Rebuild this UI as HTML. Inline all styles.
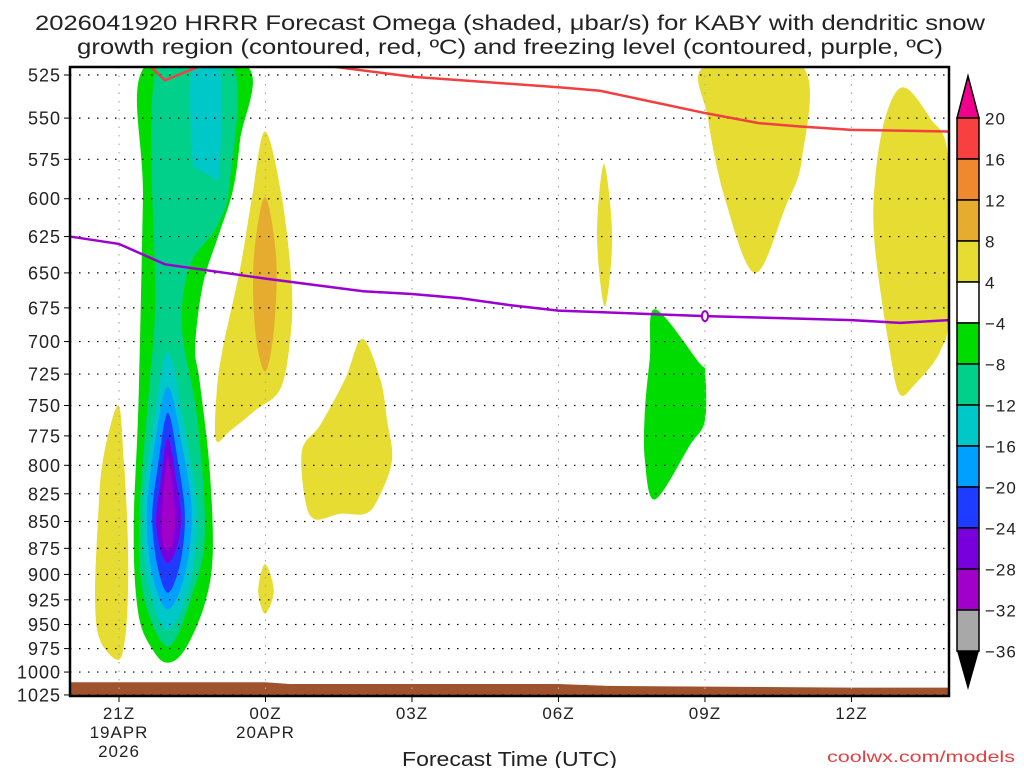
<!DOCTYPE html>
<html><head><meta charset="utf-8"><style>
body{margin:0;background:#fff;}
svg text{font-family:"Liberation Sans",sans-serif;}
</style></head><body>
<svg id="chart" width="1024" height="768" viewBox="0 0 1024 768" xmlns="http://www.w3.org/2000/svg">
<text x="35" y="30" textLength="950" lengthAdjust="spacingAndGlyphs" font-size="21" fill="#222">2026041920 HRRR Forecast Omega (shaded, μbar/s) for KABY with dendritic snow</text>
<text x="77" y="54" textLength="866" lengthAdjust="spacingAndGlyphs" font-size="21" fill="#222">growth region (contoured, red, ºC) and freezing level (contoured, purple, ºC)</text>
<g id="shades"></g>
<g id="grid"></g>
<g id="lines"></g>
<g id="axes"></g>
<g id="cbar"></g>
<text x="402" y="766" textLength="215" lengthAdjust="spacingAndGlyphs" font-size="20" fill="#222">Forecast Time (UTC)</text>
<text x="827" y="762" textLength="188" lengthAdjust="spacingAndGlyphs" font-size="16" fill="#e04040">coolwx.com/models</text>
</svg>
<script>
// ---- data ----
const pressureTicks=[525,550,575,600,625,650,675,700,725,750,775,800,825,850,875,900,925,950,975,1000,1025];
const timeTickHours=[0,3,6,9,12,15];
const timeTickLabels=[["21Z","19APR","2026"],["00Z","20APR"],["03Z"],["06Z"],["09Z"],["12Z"]];
const freezeHours=[-1,0,0.94,3,5,6,7,8,9,12,14,15,16,17];
const freezeP=[625,630,644,654,663,665,668,673,677,681,683,684,686,684];
const dgzHours=[0.63,0.94,1.66,4.3,6,7,9,9.85,12,13.1,13.95,15,17];
const dgzP=[520,528,520,520,526,528,532,534,547,553,555,557,558];
const groundHours=[-1,3,3.5,9,10,15,17];
const groundP=[1011,1011,1013,1013,1015,1017,1017];
const cbarLabels=["20","16","12","8","4","−4","−8","−12","−16","−20","−24","−28","−32","−36"];
const cbarColors=["#f84040","#f08830","#e6ac30","#e6dc32","#ffffff","#00dc00","#00d08a","#00c8c8","#00a0ff","#1e3cff","#7800dc","#a000c8","#a8a8a8"];
// shaded regions: [hour, pressure] pairs
const regGreen=[[0.53,520],[0.49,600],[0.4,746],[0.3,860],[0.4,940],[0.7,977],[1.0,990],[1.35,976],[1.75,930],[1.92,880],[1.85,800],[1.65,730],[1.56,704],[1.72,658],[2.03,625],[2.33,595],[2.48,563],[2.62,520]];
const regTeal=[[0.78,520],[0.74,671],[0.62,735],[0.42,842],[0.5,920],[1.0,973],[1.5,920],[1.76,860],[1.6,760],[1.29,690],[1.45,645],[2.01,618],[2.27,589],[2.33,520]];
const regCyanUpper=[[1.5,520],[1.5,574],[1.62,581],[1.86,585],[2.05,583],[2.05,520]];
const regCyanLower=[[1.0,708],[1.35,770],[1.6,842],[1.45,910],[1.0,956],[0.6,910],[0.49,842],[0.68,770]];
const regLtBlue=[[1.0,735],[1.3,785],[1.49,842],[1.35,900],[1.0,935],[0.68,900],[0.57,842],[0.72,785]];
const regBlue=[[1.0,756],[1.22,800],[1.35,845],[1.25,890],[1.0,918],[0.78,890],[0.68,845],[0.8,800]];
const regPurple=[[1.0,777],[1.18,815],[1.27,848],[1.18,875],[1.0,889],[0.84,875],[0.76,848],[0.85,815]];
const regMagenta=[[1.0,793],[1.12,830],[1.15,850],[1.1,870],[1.0,877],[0.9,870],[0.88,850],[0.9,830]];
const regYellowA=[[-0.02,750],[0.1,796],[0.18,866],[0.18,924],[0.12,966],[-0.02,987],[-0.39,966],[-0.49,924],[-0.43,848],[-0.33,796]];
const regYellowB=[[2.99,558],[3.34,600],[3.54,661],[3.5,700],[3.3,737],[2.79,754],[2.27,771],[1.99,779],[1.99,745],[2.11,708],[2.48,647],[2.72,600]];
const regOrangeB=[[2.99,599],[3.22,640],[3.17,692],[2.99,723],[2.79,692],[2.76,640]];
const regYellowC=[[2.99,890],[3.17,916],[2.99,939],[2.85,916]];
const regYellowD=[[4.98,698],[5.35,729],[5.49,762],[5.59,796],[5.3,830],[5.04,843],[4.53,843],[4.01,848],[3.81,830],[3.75,787],[4.12,766],[4.63,729]];
const regYellowE=[[9.93,578],[10.1,625],[9.95,674],[9.79,625]];
const regYellowF=[[12.0,520],[13.99,520],[13.99,574],[13.64,606],[13.02,650],[12.41,600],[12.06,550]];
const regYellowG=[[16.06,532],[16.61,550],[16.98,574],[17.0,676],[16.81,708],[16.3,733],[15.99,741],[15.79,708],[15.48,632],[15.48,589],[15.69,550]];
const regGreenH=[[10.98,676],[11.9,717],[12,721],[12,762],[11.69,783],[10.98,830],[10.77,796],[10.77,754],[10.87,713]];

// ---- axes ----
const X0=70,X1=949,Y0=67,Y1=696;
function xs(h){return 119+h*48.83;}
function ys(p){return 75+926.6*Math.log(p/525);}
const NS="http://www.w3.org/2000/svg";
function mk(tag,attrs,parent){const e=document.createElementNS(NS,tag);for(const k in attrs)e.setAttribute(k,attrs[k]);parent.appendChild(e);return e;}
function smoothPath(pts){
  const P=pts.map(d=>[xs(d[0]),ys(d[1])]);const n=P.length;let s="M"+P[0][0]+","+P[0][1];
  for(let i=0;i<n;i++){const p0=P[(i-1+n)%n],p1=P[i],p2=P[(i+1)%n],p3=P[(i+2)%n];
    const c1=[p1[0]+(p2[0]-p0[0])/6,p1[1]+(p2[1]-p0[1])/6],c2=[p2[0]-(p3[0]-p1[0])/6,p2[1]-(p3[1]-p1[1])/6];
    s+=" C"+c1[0]+","+c1[1]+" "+c2[0]+","+c2[1]+" "+p2[0]+","+p2[1];}
  return s+"Z";}
const svg=document.getElementById('chart');
const defs=mk('defs',{},svg);
const cp=mk('clipPath',{id:'plotclip'},defs);mk('rect',{x:X0,y:Y0,width:X1-X0,height:Y1-Y0},cp);
const sh=document.getElementById('shades');sh.setAttribute('clip-path','url(#plotclip)');
const regions=[[regGreen,"#00dc00","omega-minus4"],[regTeal,"#00d08a","omega-minus8"],[regCyanUpper,"#00c8c8","omega-minus12-upper"],[regCyanLower,"#00c8c8","omega-minus12-lower"],[regLtBlue,"#00a0ff","omega-minus16"],[regBlue,"#1e3cff","omega-minus20"],[regPurple,"#7800dc","omega-minus24"],[regMagenta,"#a000c8","omega-minus28"],[regYellowA,"#e6dc32","omega-plus4-a"],[regYellowB,"#e6dc32","omega-plus4-b"],[regOrangeB,"#e6ac30","omega-plus8-b"],[regYellowC,"#e6dc32","omega-plus4-c"],[regYellowD,"#e6dc32","omega-plus4-d"],[regYellowE,"#e6dc32","omega-plus4-e"],[regYellowF,"#e6dc32","omega-plus4-f"],[regYellowG,"#e6dc32","omega-plus4-g"],[regGreenH,"#00dc00","omega-minus4-h"]];
regions.forEach(r=>{const e=mk('path',{d:smoothPath(r[0]),fill:r[1]},sh);

});
// ground
let gd="M"+xs(-1)+","+Y1;groundHours.forEach((h,i)=>{gd+=" L"+xs(h)+","+ys(groundP[i]);});gd+=" L"+xs(17)+","+Y1+"Z";
const g=mk('path',{d:gd,fill:"#a0522d"},sh);


// grid
const grid=document.getElementById('grid');
pressureTicks.forEach(p=>{const l=mk('line',{x1:X0,x2:X1,y1:ys(p),y2:ys(p),stroke:"#000","stroke-width":1.2,"stroke-dasharray":"1.5,7.5"},grid);

});
timeTickHours.forEach(h=>{const l=mk('line',{x1:xs(h),x2:xs(h),y1:Y0,y2:Y1,stroke:"#aaa","stroke-width":1.2,"stroke-dasharray":"1.5,7"},grid);

});
// lines
const ln=document.getElementById('lines');ln.setAttribute('clip-path','url(#plotclip)');
const fz=mk('polyline',{points:freezeHours.map((h,i)=>xs(h)+","+ys(freezeP[i])).join(" "),fill:"none",stroke:"#9b00d0","stroke-width":2.5},ln);


const dg=mk('polyline',{points:dgzHours.map((h,i)=>xs(h)+","+ys(dgzP[i])).join(" "),fill:"none",stroke:"#f04040","stroke-width":2.5},ln);


const fl=mk('ellipse',{cx:xs(12),cy:ys(681),rx:3,ry:5,fill:"#fff",stroke:"#9b00d0","stroke-width":2},svg);


// axes
const ax=document.getElementById('axes');
mk('rect',{x:X0,y:Y0,width:X1-X0,height:Y1-Y0,fill:"none",stroke:"#000","stroke-width":2.5},ax);
pressureTicks.forEach(p=>{mk('line',{x1:X0-6,x2:X0,y1:ys(p),y2:ys(p),stroke:"#000","stroke-width":1},ax);
const t=mk('text',{x:X0-9,y:ys(p)+6.5,"text-anchor":"end","font-size":18,"letter-spacing":1,fill:"#222"},ax);t.textContent=p;

});
timeTickHours.forEach((h,i)=>{mk('line',{x1:xs(h),x2:xs(h),y1:Y1,y2:Y1+6,stroke:"#000","stroke-width":1},ax);
timeTickLabels[i].forEach((s,j)=>{const t=mk('text',{x:xs(h),y:719+j*19,"text-anchor":"middle","font-size":17,"letter-spacing":1,fill:"#222"},ax);t.textContent=s;

});});
// colorbar
const cb=document.getElementById('cbar');const bx=957,bw=22,bt=118,bh=41;
mk('polygon',{points:`${bx},${bt} ${bx+bw},${bt} ${bx+bw/2},76`,fill:"#f0008c",stroke:"#000","stroke-width":1.5},cb);
cbarColors.forEach((c,i)=>{const r=mk('rect',{x:bx,y:bt+i*bh,width:bw,height:bh,fill:c,stroke:"#000","stroke-width":1.5},cb);

});
const yb=bt+cbarColors.length*bh;
mk('polygon',{points:`${bx},${yb} ${bx+bw},${yb} ${bx+bw/2},690`,fill:"#000"},cb);
cbarLabels.forEach((s,i)=>{const t=mk('text',{x:985,y:bt+i*bh+6.5,"font-size":17,"letter-spacing":1,fill:"#222"},cb);t.textContent=s;

});
</script>
</body></html>
